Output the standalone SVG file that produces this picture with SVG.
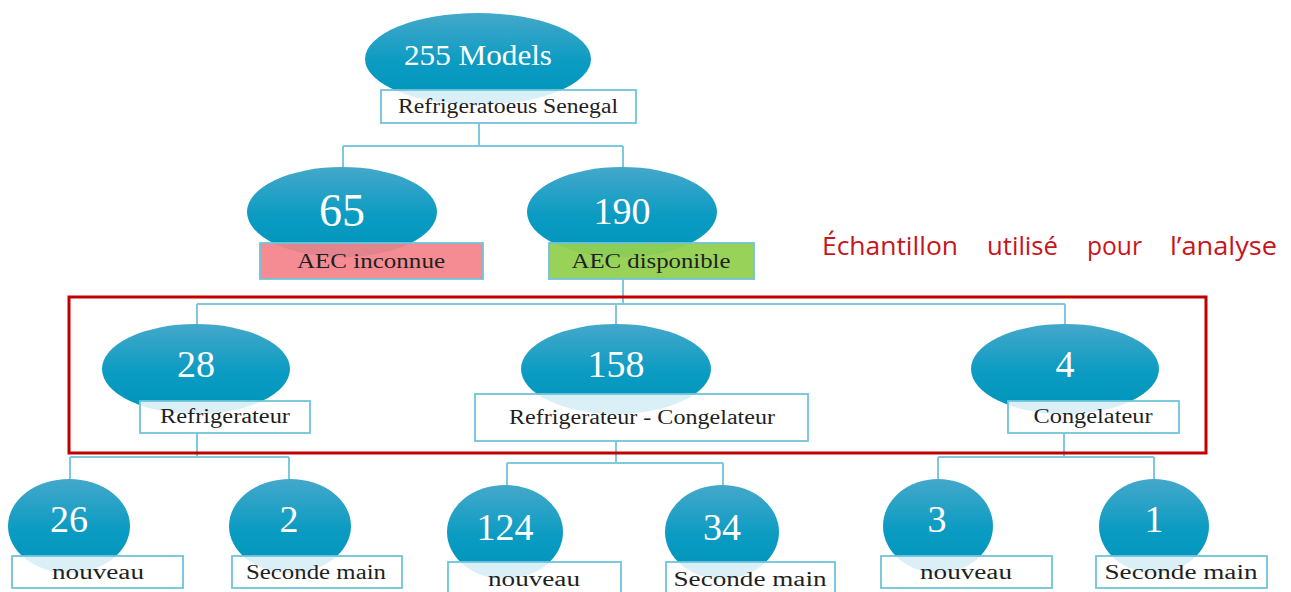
<svg xmlns="http://www.w3.org/2000/svg" width="1291" height="592" viewBox="0 0 1291 592">
<defs>
<linearGradient id="blue" x1="0" y1="0" x2="0" y2="1">
<stop offset="0" stop-color="#44a8ca"/>
<stop offset="0.55" stop-color="#0a9bc2"/>
<stop offset="1" stop-color="#0095bc"/>
</linearGradient>
<style>
.ell{fill:url(#blue);}
.lab{fill:#ffffff;fill-opacity:0.86;stroke:#6fc4db;stroke-width:1.8;}
.num{font-family:"Liberation Serif","DejaVu Serif",serif;fill:#ffffff;text-anchor:middle;}
.txt{font-family:"Liberation Serif","DejaVu Serif",serif;fill:#1f1f1f;font-size:20px;text-anchor:middle;}
.con{fill:none;stroke:#7ec9dd;stroke-width:2;}
.title{font-family:"Open Sans","Liberation Sans",sans-serif;font-size:26px;fill:#c8141c;}
</style>
</defs>
<rect width="1291" height="592" fill="#ffffff"/>

<g id="connectors">
<path class="con" d="M479 123V146M343 146H623M343 146V170M623 146V170"/>
<path class="con" d="M623 279V304M197 304H1065M197 304V326M616 304V326M1065 304V326"/>
<path class="con" d="M197 433V457M70 457H289M70 457V480M289 457V480"/>
<path class="con" d="M616 441V463M507 463H723M507 463V486M723 463V486"/>
<path class="con" d="M1064 433V457M938 457H1154M938 457V480M1154 457V480"/>
</g>

<g id="sample-box">
<rect x="69" y="297" width="1137" height="156" fill="none" stroke="#c00000" stroke-width="3"/>
<text class="title" x="822" y="255" textLength="136" lengthAdjust="spacingAndGlyphs">Échantillon</text>
<text class="title" x="987" y="255" textLength="71" lengthAdjust="spacingAndGlyphs">utilisé</text>
<text class="title" x="1087" y="255" textLength="55" lengthAdjust="spacingAndGlyphs">pour</text>
<text class="title" x="1170" y="255" textLength="107" lengthAdjust="spacingAndGlyphs">l’analyse</text>
</g>

<g id="root">
<ellipse class="ell" cx="478" cy="59" rx="113" ry="46"/>
<text class="num" x="478" y="65" font-size="30" textLength="148" lengthAdjust="spacingAndGlyphs">255 Models</text>
<rect class="lab" x="381" y="90" width="255" height="33"/>
<text class="txt" x="508" y="113" textLength="220" lengthAdjust="spacingAndGlyphs">Refrigeratoeus Senegal</text>
</g>

<g id="n65">
<ellipse class="ell" cx="342" cy="212" rx="95" ry="45"/>
<text class="num" x="342" y="226" font-size="46">65</text>
<rect x="260" y="243" width="223" height="36" fill="#f4828a" fill-opacity="0.92" stroke="#6fc4db" stroke-width="1.8"/>
<text class="txt" x="371" y="268" textLength="148" lengthAdjust="spacingAndGlyphs">AEC inconnue</text>
</g>

<g id="n190">
<ellipse class="ell" cx="622" cy="212" rx="95" ry="45"/>
<text class="num" x="622" y="224" font-size="38">190</text>
<rect x="549" y="243" width="205" height="36" fill="#92d050" fill-opacity="0.95" stroke="#6fc4db" stroke-width="1.8"/>
<text class="txt" x="651" y="268" textLength="159" lengthAdjust="spacingAndGlyphs">AEC disponible</text>
</g>

<g id="n28">
<ellipse class="ell" cx="196" cy="369" rx="94" ry="45"/>
<text class="num" x="196" y="377" font-size="38">28</text>
<rect class="lab" x="140" y="401" width="170" height="32"/>
<text class="txt" x="225" y="423" textLength="130" lengthAdjust="spacingAndGlyphs">Refrigerateur</text>
</g>

<g id="n158">
<ellipse class="ell" cx="616" cy="369" rx="95" ry="45"/>
<text class="num" x="616" y="377" font-size="38">158</text>
<rect class="lab" x="475" y="394" width="333" height="47"/>
<text class="txt" x="642" y="424" textLength="266" lengthAdjust="spacingAndGlyphs">Refrigerateur - Congelateur</text>
</g>

<g id="n4">
<ellipse class="ell" cx="1065" cy="369" rx="94" ry="45"/>
<text class="num" x="1065" y="377" font-size="38">4</text>
<rect class="lab" x="1008" y="401" width="171" height="32"/>
<text class="txt" x="1093" y="423" textLength="119" lengthAdjust="spacingAndGlyphs">Congelateur</text>
</g>

<g id="n26">
<ellipse class="ell" cx="69" cy="526" rx="61" ry="47"/>
<text class="num" x="69" y="532" font-size="38">26</text>
<rect class="lab" x="12" y="556" width="171" height="32"/>
<text class="txt" x="98" y="579" textLength="92" lengthAdjust="spacingAndGlyphs">nouveau</text>
</g>

<g id="n2">
<ellipse class="ell" cx="290" cy="526" rx="61" ry="47"/>
<text class="num" x="289" y="532" font-size="38">2</text>
<rect class="lab" x="232" y="556" width="170" height="32"/>
<text class="txt" x="316" y="579" textLength="140" lengthAdjust="spacingAndGlyphs">Seconde main</text>
</g>

<g id="n124">
<ellipse class="ell" cx="505" cy="532" rx="58" ry="47"/>
<text class="num" x="505" y="540" font-size="38">124</text>
<rect class="lab" x="448" y="562" width="173" height="40"/>
<text class="txt" x="534" y="586" textLength="92" lengthAdjust="spacingAndGlyphs">nouveau</text>
</g>

<g id="n34">
<ellipse class="ell" cx="722" cy="532" rx="57" ry="47"/>
<text class="num" x="722" y="540" font-size="38">34</text>
<rect class="lab" x="666" y="562" width="169" height="40"/>
<text class="txt" x="750" y="586" textLength="153" lengthAdjust="spacingAndGlyphs">Seconde main</text>
</g>

<g id="n3">
<ellipse class="ell" cx="938" cy="526" rx="55" ry="47"/>
<text class="num" x="937" y="532" font-size="38">3</text>
<rect class="lab" x="881" y="556" width="171" height="32"/>
<text class="txt" x="966" y="579" textLength="92" lengthAdjust="spacingAndGlyphs">nouveau</text>
</g>

<g id="n1">
<ellipse class="ell" cx="1154" cy="526" rx="55" ry="47"/>
<text class="num" x="1154" y="532" font-size="38">1</text>
<rect class="lab" x="1096" y="556" width="171" height="32"/>
<text class="txt" x="1181" y="579" textLength="153" lengthAdjust="spacingAndGlyphs">Seconde main</text>
</g>
</svg>
